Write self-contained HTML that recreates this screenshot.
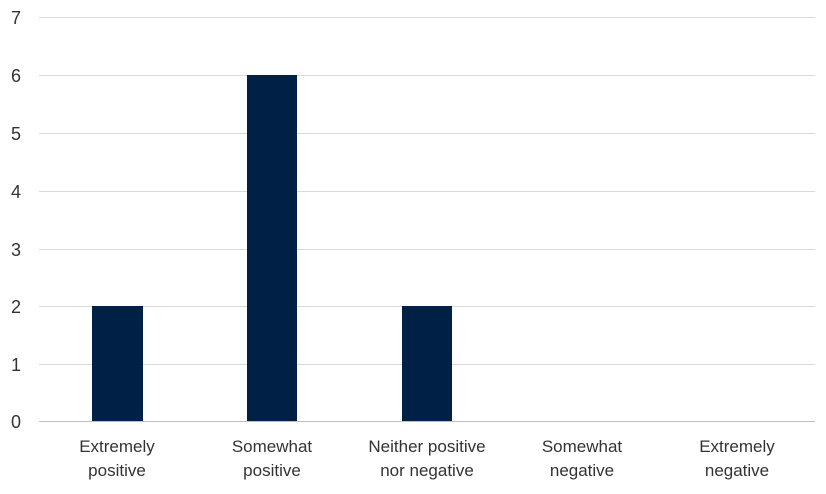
<!DOCTYPE html>
<html><head><style>body{margin:0;background:#fff}</style></head><body>
<svg width="826" height="489" xmlns="http://www.w3.org/2000/svg" font-family="Liberation Sans, sans-serif">
<rect width="826" height="489" fill="#fff"/>
<g stroke="#d9d9d9" stroke-width="1">
<line x1="39" x2="815" y1="17.5" y2="17.5"/>
<line x1="39" x2="815" y1="75.5" y2="75.5"/>
<line x1="39" x2="815" y1="133.5" y2="133.5"/>
<line x1="39" x2="815" y1="191.5" y2="191.5"/>
<line x1="39" x2="815" y1="249.5" y2="249.5"/>
<line x1="39" x2="815" y1="306.5" y2="306.5"/>
<line x1="39" x2="815" y1="364.5" y2="364.5"/>
</g>
<line x1="39" x2="815" y1="421.5" y2="421.5" stroke="#bfbfbf"/>
<g fill="#333" font-size="18" text-anchor="middle">
<text x="16" y="24">7</text><text x="16" y="82">6</text><text x="16" y="140">5</text>
<text x="16" y="198">4</text><text x="16" y="256">3</text><text x="16" y="313">2</text>
<text x="16" y="371">1</text><text x="16" y="428">0</text>
</g>
<g fill="#002145">
<rect x="92" y="306" width="51" height="115"/>
<rect x="247" y="75" width="50" height="346"/>
<rect x="402" y="306" width="50" height="115"/>
</g>
<g fill="#333" font-size="17" text-anchor="middle">
<text x="117" y="452">Extremely</text><text x="117" y="476">positive</text>
<text x="272" y="452">Somewhat</text><text x="272" y="476">positive</text>
<text x="427" y="452">Neither positive</text><text x="427" y="476">nor negative</text>
<text x="582" y="452">Somewhat</text><text x="582" y="476">negative</text>
<text x="737" y="452">Extremely</text><text x="737" y="476">negative</text>
</g>
</svg>
</body></html>
